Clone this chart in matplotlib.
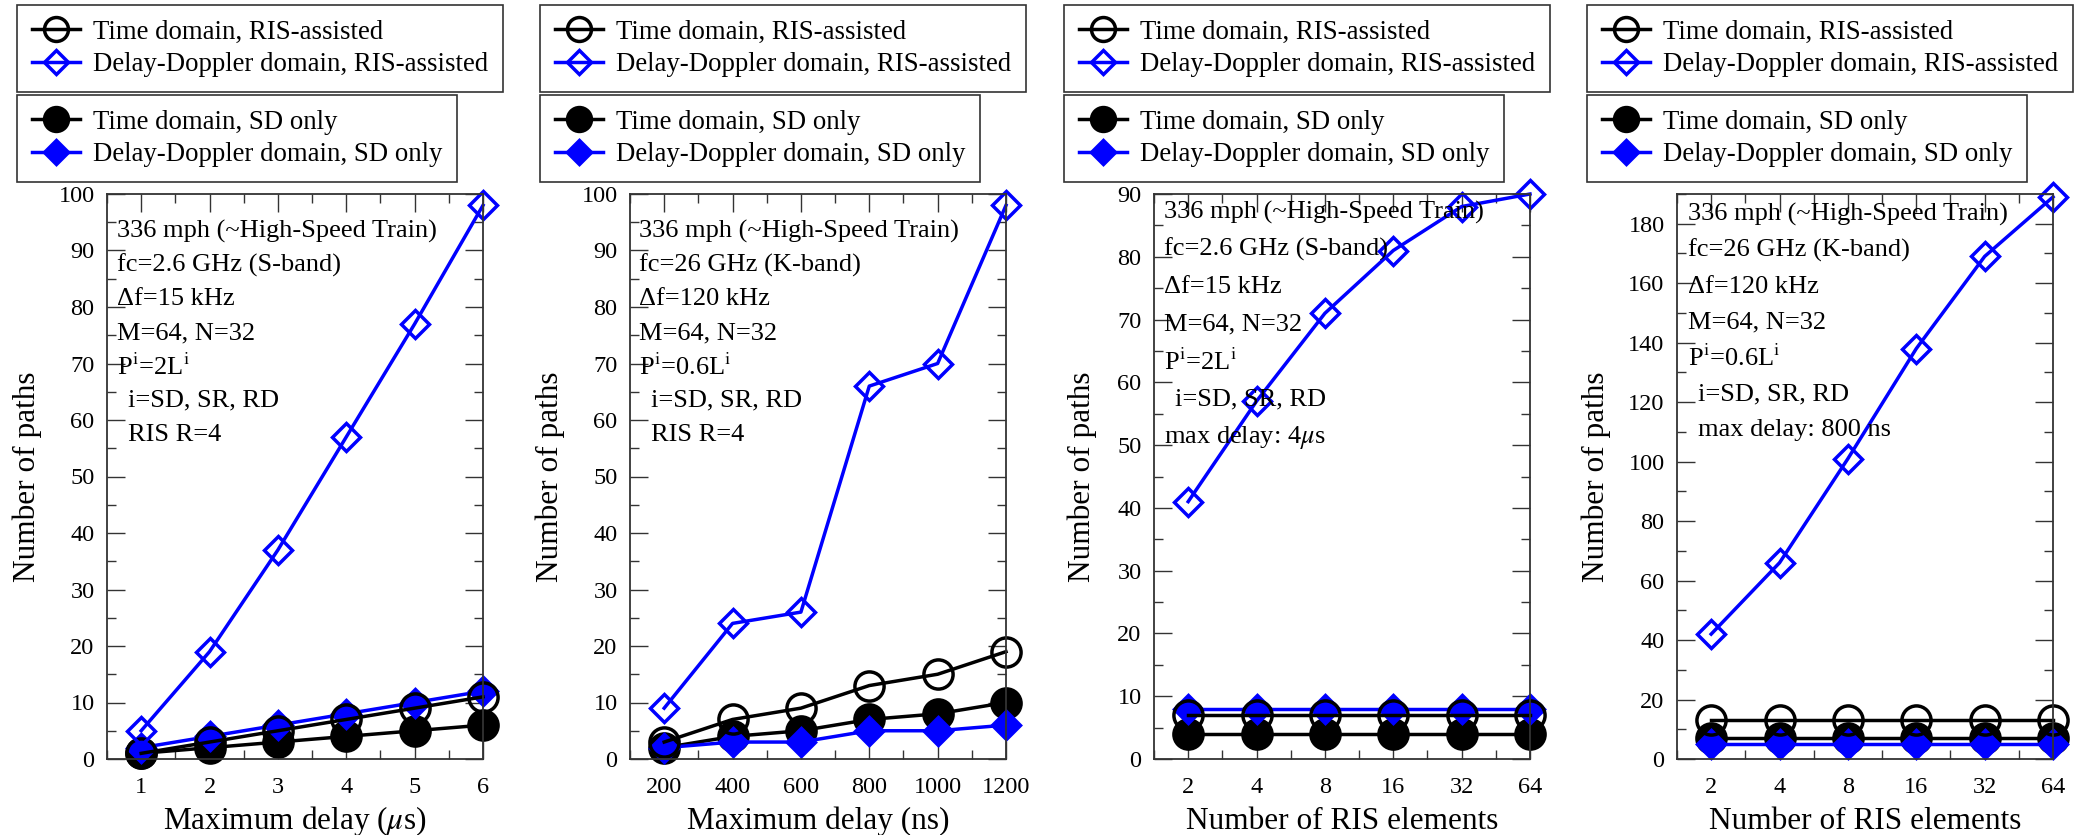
import matplotlib
matplotlib.use("Agg")
import matplotlib.pyplot as plt
from matplotlib.lines import Line2D
from matplotlib.ticker import MultipleLocator

plt.rcParams["font.family"] = ["Liberation Serif", "DejaVu Serif"]
plt.rcParams["mathtext.fontset"] = "stix"

# (a) S-band, sweep of maximum delay
delay_us = [1, 2, 3, 4, 5, 6]
a_time_ris = [1, 3, 5, 7, 9, 11]
a_dd_ris = [5, 19, 37, 57, 77, 98]
a_time_sd = [1, 2, 3, 4, 5, 6]
a_dd_sd = [2, 4, 6, 8, 10, 12]

# (b) K-band, sweep of maximum delay
delay_ns = [200, 400, 600, 800, 1000, 1200]
b_time_ris = [3, 7, 9, 13, 15, 19]
b_dd_ris = [9, 24, 26, 66, 70, 98]
b_time_sd = [2, 4, 5, 7, 8, 10]
b_dd_sd = [2, 3, 3, 5, 5, 6]

# (c) S-band, sweep of RIS size
ris_elements = ["2", "4", "8", "16", "32", "64"]
c_time_ris = [7, 7, 7, 7, 7, 7]
c_dd_ris = [41, 57, 71, 81, 88, 90]
c_time_sd = [4, 4, 4, 4, 4, 4]
c_dd_sd = [8, 8, 8, 8, 8, 8]

# (d) K-band, sweep of RIS size
d_time_ris = [13, 13, 13, 13, 13, 13]
d_dd_ris = [42, 66, 101, 138, 169, 189]
d_time_sd = [7, 7, 7, 7, 7, 7]
d_dd_sd = [5, 5, 5, 5, 5, 5]

labels = {
    "time_ris": "Time domain, RIS-assisted",
    "dd_ris": "Delay-Doppler domain, RIS-assisted",
    "time_sd": "Time domain, SD only",
    "dd_sd": "Delay-Doppler domain, SD only",
}

BLUE = "#0000ff"
styles = {
    "time_ris": dict(color="k", marker="o", mfc="none", mec="k", ms=21),
    "dd_ris": dict(color=BLUE, marker="D", mfc="none", mec=BLUE, ms=14.5),
    "time_sd": dict(color="k", marker="o", mfc="k", mec="k", ms=21),
    "dd_sd": dict(color=BLUE, marker="D", mfc=BLUE, mec=BLUE, ms=14.5),
}
draw_order = ["time_sd", "dd_sd", "time_ris", "dd_ris"]

sband = ["336 mph (~High-Speed Train)", "fc=2.6 GHz (S-band)", "Δf=15 kHz",
         "M=64, N=32", r"P$^{\mathrm{i}}$=2L$^{\mathrm{i}}$", "i=SD, SR, RD"]
kband = ["336 mph (~High-Speed Train)", "fc=26 GHz (K-band)", "Δf=120 kHz",
         "M=64, N=32", r"P$^{\mathrm{i}}$=0.6L$^{\mathrm{i}}$", "i=SD, SR, RD"]

panels = [
    dict(x=delay_us, xticklabels=None, xlim=(0.5, 6), xmaj=1, xmin=0.5,
         ylim=(0, 100), ymaj=10, ymin=5, xlabel=r"Maximum delay ($\mu$s)",
         data=dict(time_ris=a_time_ris, dd_ris=a_dd_ris, time_sd=a_time_sd, dd_sd=a_dd_sd),
         notes=sband + ["RIS R=4"], note_x=[0.027] * 5 + [0.056, 0.056],
         note_top=0.933, note_step=0.0598, left=107, ylab_x=-0.212),
    dict(x=delay_ns, xticklabels=None, xlim=(100, 1200), xmaj=200, xmin=100,
         ylim=(0, 100), ymaj=10, ymin=5, xlabel="Maximum delay (ns)",
         data=dict(time_ris=b_time_ris, dd_ris=b_dd_ris, time_sd=b_time_sd, dd_sd=b_dd_sd),
         notes=kband + ["RIS R=4"], note_x=[0.024] * 5 + [0.056, 0.056],
         note_top=0.933, note_step=0.0598, left=630, ylab_x=-0.212),
    dict(x=list(range(6)), xticklabels=ris_elements, xlim=(-0.5, 5), xmaj=1, xmin=0.5,
         ylim=(0, 90), ymaj=10, ymin=5, xlabel="Number of RIS elements",
         data=dict(time_ris=c_time_ris, dd_ris=c_dd_ris, time_sd=c_time_sd, dd_sd=c_dd_sd),
         notes=sband + [r"max delay: 4$\mu$s"], note_x=[0.027] * 5 + [0.056, 0.027],
         note_top=0.968, note_step=0.0664, left=1154, ylab_x=-0.19),
    dict(x=list(range(6)), xticklabels=ris_elements, xlim=(-0.5, 5), xmaj=1, xmin=0.5,
         ylim=(0, 190), ymaj=20, ymin=10, xlabel="Number of RIS elements",
         data=dict(time_ris=d_time_ris, dd_ris=d_dd_ris, time_sd=d_time_sd, dd_sd=d_dd_sd),
         notes=kband + ["max delay: 800 ns"], note_x=[0.029] * 5 + [0.056, 0.056],
         note_top=0.963, note_step=0.0634, left=1677, ylab_x=-0.216),
]

W, H = 2078, 835
fig = plt.figure(figsize=(W / 100, H / 100), dpi=100)

AX_W, AX_TOP, AX_BOT = 376, 194, 759
LW = 2.5


def make_handle(key):
    st = styles[key]
    return Line2D([], [], lw=LW, mew=LW, label=labels[key], **st)


for p in panels:
    ax = fig.add_axes([p["left"] / W, 1 - AX_BOT / H, AX_W / W, (AX_BOT - AX_TOP) / H])

    for key in draw_order:
        ax.plot(p["x"], p["data"][key], lw=LW, mew=LW, clip_on=False, **styles[key])

    ax.set_xlim(*p["xlim"])
    ax.set_ylim(*p["ylim"])
    ax.xaxis.set_major_locator(MultipleLocator(p["xmaj"]))
    ax.xaxis.set_minor_locator(MultipleLocator(p["xmin"]))
    ax.yaxis.set_major_locator(MultipleLocator(p["ymaj"]))
    ax.yaxis.set_minor_locator(MultipleLocator(p["ymin"]))
    if p["xticklabels"] is not None:
        ax.set_xticks(p["x"])
        ax.set_xticklabels(p["xticklabels"])
    ax.set_xlim(*p["xlim"])

    ax.tick_params(which="both", direction="in", top=True, right=True,
                   color="#333333", labelsize=17.5)
    ax.tick_params(which="major", length=13, width=1.0)
    ax.tick_params(axis="x", which="major", pad=13)
    ax.tick_params(axis="y", which="major", pad=9)
    ax.tick_params(which="minor", length=6.5, width=1.0)
    for sp in ax.spines.values():
        sp.set_color("#333333")
        sp.set_linewidth(1.3)

    ax.set_xlabel(p["xlabel"], fontsize=22.5, va="center")
    ax.xaxis.set_label_coords(0.5, -0.11)
    ax.set_ylabel("Number of paths", fontsize=22.5, va="center")
    ax.yaxis.set_label_coords(p["ylab_x"], 0.5)

    # simulation parameters
    for i, (line, xf) in enumerate(zip(p["notes"], p["note_x"])):
        ax.text(xf, p["note_top"] - i * p["note_step"], line, transform=ax.transAxes,
                fontsize=19, ha="left", va="center")

    # two stacked legend boxes above the axes
    leg_left = (p["left"] - 90) / W
    leg_kw = dict(loc="upper left", bbox_transform=fig.transFigure, borderaxespad=0,
                  fontsize=19.3, frameon=True, fancybox=False, framealpha=1,
                  edgecolor="#333333", handlelength=1.8, handletextpad=0.48,
                  labelspacing=0.28, borderpad=0.55, markerscale=0.82)
    leg1 = ax.legend(handles=[make_handle("time_ris"), make_handle("dd_ris")],
                     bbox_to_anchor=(leg_left, 1 - 5 / H), **leg_kw)
    leg1.get_frame().set_linewidth(1.2)
    ax.add_artist(leg1)
    leg2 = ax.legend(handles=[make_handle("time_sd"), make_handle("dd_sd")],
                     bbox_to_anchor=(leg_left, 1 - 95 / H), **leg_kw)
    leg2.get_frame().set_linewidth(1.2)

fig.savefig("out.png", dpi=100)
plt.close(fig)
